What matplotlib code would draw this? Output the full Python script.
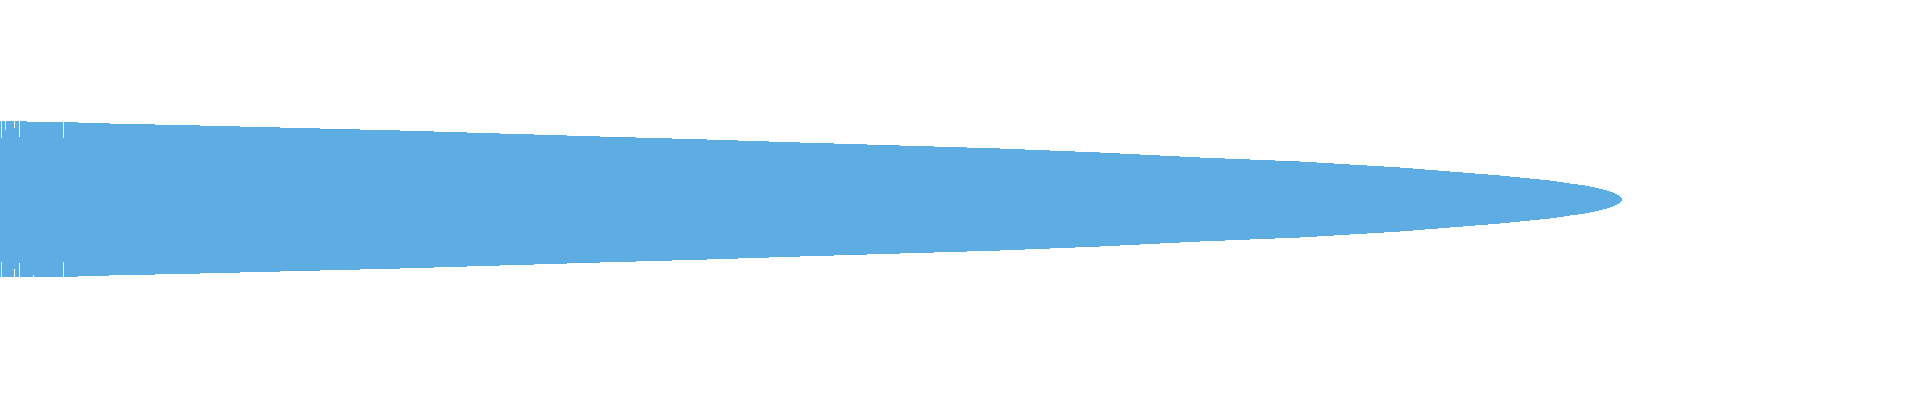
import numpy as np
import matplotlib
matplotlib.use('Agg')
import matplotlib.pyplot as plt

# profile of the shape: position along the bar and half-width
pos = [31, 62, 100, 200, 300, 400, 500, 600, 700, 800, 900, 1000, 1100, 1200,
       1250, 1300, 1350, 1400, 1425, 1450, 1475, 1500, 1530, 1550, 1570, 1585,
       1595, 1603, 1610, 1615, 1619, 1621, 1622]
half = [77.2, 77.0, 75.7, 73.5, 71.0, 68.5, 65.5, 62.5, 59.7, 56.5, 53.5,
        50.5, 46.5, 41.5, 39.5, 37.5, 34.5, 31.5, 29.5, 27.5, 25.5, 23.5,
        20.5, 18.5, 15.5, 13.5, 11.5, 9.5, 7.5, 5.5, 3.5, 1.5, 0.0]
start_top = 78.0
start_bottom = 77.5

# short columns near the start (column index, half-width)
top_gaps = [(1, 61.5), (5, 69.5), (14, 71.5), (19, 62.5), (63, 61.5)]
bottom_gaps = [(1, 62.5), (14, 69.5), (19, 63.0), (33, 75.5), (63, 62.5)]

color = '#5DADE2'


def edge(start, gaps):
    xs, ys = [0], [start]
    cur = start
    prof = list(zip(pos, half))
    events = sorted([(c, 'gap', h) for c, h in gaps] + [(p, 'pt', h) for p, h in prof])
    for x, kind, h in events:
        if kind == 'gap':
            xs += [x, x, x + 1, x + 1]
            ys += [cur, h, h, cur]
        else:
            xs.append(x)
            ys.append(h)
            cur = h
    return xs, ys


tx, ty = edge(start_top, top_gaps)
bx, by = edge(start_bottom, bottom_gaps)

poly_x = tx + bx[::-1]
poly_y = ty + [-v for v in by[::-1]]

fig = plt.figure(figsize=(19.2, 4), dpi=100)
ax = fig.add_axes([0, 0, 1, 1])
ax.fill(poly_x, poly_y, color=color, linewidth=0, antialiased=False)
ax.set_xlim(0, 1920)
ax.set_ylim(-200.5, 199.5)
ax.axis('off')
plt.savefig('out.png', dpi=100, facecolor='white')
